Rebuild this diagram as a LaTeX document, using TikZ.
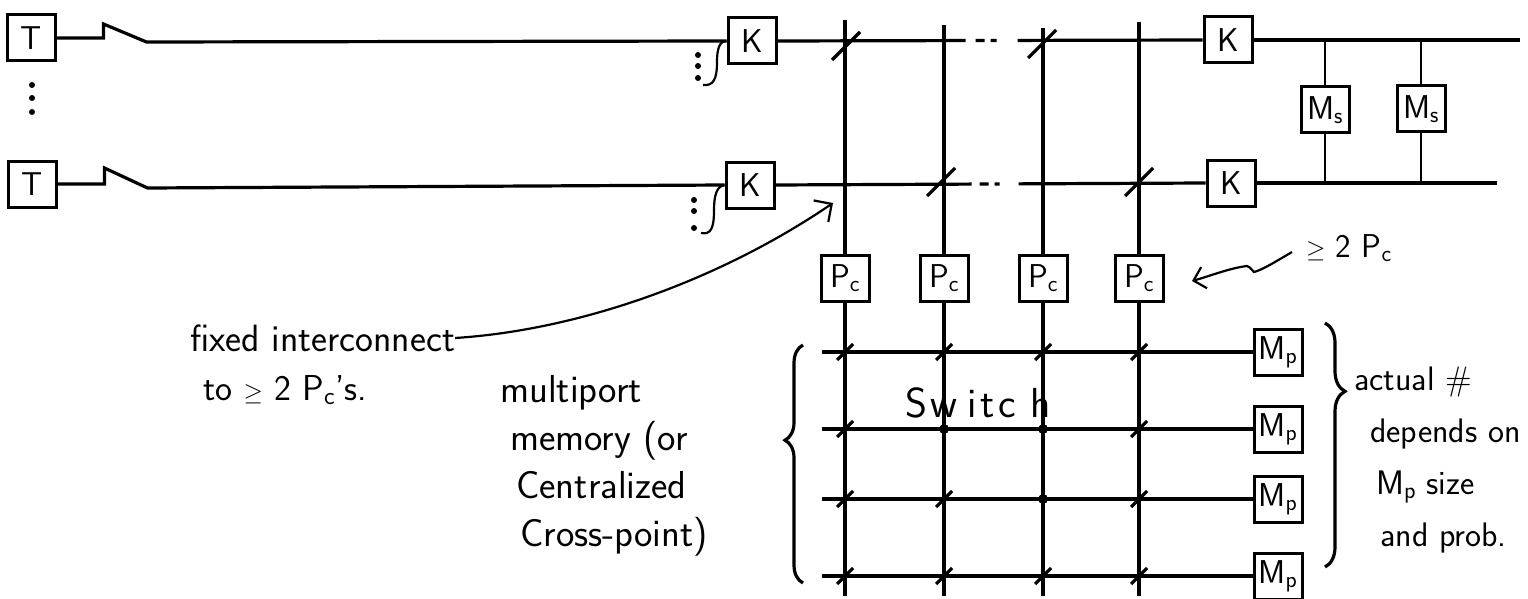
\documentclass[tikz,border=0pt]{standalone}
\usetikzlibrary{arrows.meta,decorations.pathreplacing}

\tikzset{
  box/.style={draw, line width=3pt, minimum width=48pt, minimum height=46pt,
    inner sep=0pt, font=\fontsize{33}{35}\selectfont\sffamily},
  wire/.style={line width=3.2pt},
  thin wire/.style={line width=2.2pt},
  note/.style={inner sep=0pt, align=left},
}
\newcommand{\slashat}[2][8]{\draw[wire] (#2) ++(-#1,#1) -- ++(2*#1,-2*#1);}

\begin{document}
\begin{tikzpicture}[x=1pt,y=-1pt]
  \useasboundingbox (0,0) rectangle (1528,599);

  % Terminals
  \node[box] (T1) at (31,38) {T};
  \node[box] (T2) at (32,184) {T};
  \foreach \y in {85,98,112} \fill (32,\y) circle (3);

  % Switches K
  \node[box] (K1) at (752,41) {K};
  \node[box] (K2) at (750,185) {K};
  \node[box] (K3) at (1228,40) {K};
  \node[box] (K4) at (1231,183) {K};

  % Lines from the terminals (with the hook)
  \draw[wire] (T1.east) -- ++(47,0) -- ++(0,-14) -- ++(43,18) -- (K1.west);
  \draw[wire] (T2.east) -- ++(47,0) -- ++(0,-16) -- ++(43,20) -- (K2.west);

  % Other lines into the K's
  \draw[thin wire] (K1.west) .. controls (719,41) and (717,50) .. (717,62)
    .. controls (717,80) and (713,86) .. (703,85);
  \foreach \y in {55,66,78} \fill (698,\y) circle (3);
  \draw[thin wire] (K2.west) .. controls (717,186) and (714,195) .. (714,210)
    .. controls (714,228) and (711,235) .. (701,233);
  \foreach \y in {200,211,228} \fill (694,\y) circle (3);

  % Buses
  \draw[wire, dash pattern=on 188pt off 10pt on 9pt off 6pt on 6pt off 21pt on 400pt]
    (K1.east) -- (K3.west);
  \draw[wire, dash pattern=on 196pt off 8pt on 9pt off 6pt on 5pt off 19pt on 400pt]
    (K2.east) -- (K4.west);
  \draw[wire] (K3.east) -- ++(266,0);
  \draw[wire] (K4.east) -- ++(240,0);

  % Shared memories
  \node[box] (Ms1) at (1325,110) {M\textsubscript{s}};
  \node[box] (Ms2) at (1421,109) {M\textsubscript{s}};
  \foreach \m in {Ms1,Ms2} {
    \draw[thin wire] (\m.north) -- (\m |- K3.east);
    \draw[thin wire] (\m.south) -- (\m |- K4.east);
  }

  % Processors, columns down through the switch
  \foreach \i/\x/\t in {1/845/20,2/944/25,3/1043/28,4/1139/22} {
    \node[box] (Pc\i) at (\x,278) {P\textsubscript{c}};
    \draw[wire] (Pc\i |- 0,\t) -- (Pc\i.north);
    \draw[wire] (Pc\i.south) -- (Pc\i |- 0,596);
  }

  % Fixed connections on the buses
  \slashat[14]{846,46}
  \slashat[14]{1042,44}
  \slashat[14]{941,182}
  \slashat[14]{1139,182}

  % Memory modules and rows
  \foreach \i/\y in {1/352,2/429,3/499,4/576} {
    \node[box] (Mp\i) at (1278,\y) {M\textsubscript{p}};
    \draw[wire] (822,\y) -- (Mp\i.west);
  }

  % Cross-points
  \foreach \x/\y in {845/352,944/352,1043/352,1139/352,845/429,1139/429,
                     845/499,944/499,1139/499,845/576,944/576,1043/576,1139/576}
    \slashat[8]{\x,\y}
  \foreach \x/\y in {944/429,1043/429,1043/499} \fill (\x,\y) circle (4.5);

  \node[font=\fontsize{42}{42}\selectfont\sffamily] (sw) at (978,403)
    {S\kern3pt w\kern10pt i\kern4pt t\kern4pt c\kern14pt h};

  % Braces
  \draw[wire, decorate, decoration={brace, amplitude=18pt, aspect=0.6}]
    (803,583) -- (803,345);
  \draw[wire, decorate, decoration={brace, amplitude=20pt, aspect=0.28}]
    (1325,323) -- (1325,567);

  % Notes
  \node[note, anchor=west, font=\fontsize{38}{40}\selectfont\sffamily] (fixtxt)
    at (190,338) {fixed interconnect};
  \node[note, anchor=west, font=\fontsize{36}{40}\selectfont\sffamily] (fixtxt2)
    at (203,390) {to $\geq$ 2 P\textsubscript{c}'s.};
  \coordinate (fixend) at (833,203);
  \draw[thin wire, -{Straight Barb[length=13pt]}] (fixtxt.east)
    .. controls (580,330) and (720,280) .. (fixend);

  \node[note, anchor=west, font=\fontsize{39}{48}\selectfont\sffamily] (mpmem)
    at (500,466) {multiport\\\hspace*{10pt}memory (or\\\hspace*{16pt}Centralized\\\hspace*{20pt}Cross-point)};

  \node[note, anchor=west, font=\fontsize{34}{52}\selectfont\sffamily] (actual)
    at (1354,460) {actual \#\\\hspace*{16pt}depends on\\\hspace*{22pt}M\textsubscript{p} size\\\hspace*{26pt}and prob.};

  \node[note, anchor=west, font=\fontsize{33}{36}\selectfont\sffamily] (gelbl)
    at (1306,248) {$\geq$ 2 P\textsubscript{c}};
  \draw[thin wire, -{Straight Barb[length=11pt]}] ([xshift=-14pt,yshift=-4pt]gelbl.west)
    .. controls (1275,262) and (1262,270) .. (1254,272)
    .. controls (1250,268) and (1249,266) .. (1247,266)
    .. controls (1230,268) and (1210,276) .. (1192,281);
\end{tikzpicture}
\end{document}
